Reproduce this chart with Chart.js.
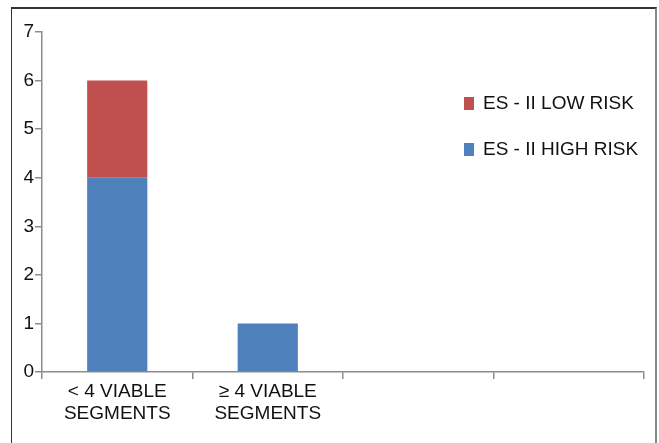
<!DOCTYPE html>
<html>
<head>
<meta charset="utf-8">
<script src="https://cdn.jsdelivr.net/npm/chart.js@4.4.1/dist/chart.umd.min.js"></script>
<style>
  html, body { margin: 0; padding: 0; background: #fff; overflow: hidden; }
  #wrap { position: relative; width: 659px; height: 443px; }
  #frame { position: absolute; left: 11px; top: 7px; width: 643px; height: 460px;
    border-top: 2px solid #333; border-left: 1px solid #333; border-right: 2px solid #888; }
  canvas { position: absolute; left: 0; top: 0; }
</style>
</head>
<body>
<div id="wrap">
  <div id="frame"></div>
  <canvas id="myChart" width="659" height="443"></canvas>
</div>
<script>
var categories = [['< 4 VIABLE', 'SEGMENTS'], ['≥ 4 VIABLE', 'SEGMENTS'], '', '']
var highRisk = [4, 1, null, null]
var lowRisk = [2, null, null, null]
var blueColor = '#4F81BD'
var redColor = '#C0504D'
var axisColor = '#8c8c8c'
var fontFamily = '"Liberation Sans", Arial, sans-serif'

// legend drawn inside the plot, top item = last dataset
var insideLegend = {
	id: 'insideLegend',
	afterDraw: function (chart) {
		var c = chart.ctx
		var sets = chart.data.datasets.slice().reverse()
		c.save()
		c.font = '19px ' + fontFamily
		c.textBaseline = 'middle'
		sets.forEach(function (ds, i) {
			var y = 103 + i * 46
			c.fillStyle = ds.backgroundColor
			c.fillRect(464, y - 6, 10, 13)
			c.fillStyle = '#111'
			c.fillText(ds.label, 483, y + 1)
		})
		c.restore()
	}
}

var ctx = document.getElementById('myChart')
var chart = new Chart(ctx, {
	type: 'bar',
	data: {
		labels: categories,
		datasets: [{
			label: 'ES - II HIGH RISK',
			data: highRisk,
			backgroundColor: blueColor,
			barPercentage: 0.4,
			categoryPercentage: 1,
		}, {
			label: 'ES - II LOW RISK',
			data: lowRisk,
			backgroundColor: redColor,
			barPercentage: 0.4,
			categoryPercentage: 1,
		}]
	},
	options: {
		responsive: false,
		animation: false,
		layout: { padding: { left: 0, top: 32, right: 15, bottom: 0 } },
		plugins: {
			legend: { display: false },
			tooltip: { enabled: false },
		},
		scales: {
			x: {
				stacked: true,
				offset: true,
				grid: { offset: true, drawOnChartArea: false, drawTicks: true, tickLength: 7, color: axisColor, lineWidth: 1.5 },
				border: { color: axisColor, width: 1.5 },
				ticks: { color: '#111', font: { family: fontFamily, size: 19, lineHeight: 1.2 }, padding: 1, maxRotation: 0, autoSkip: false },
				afterFit: function (s) { s.height = 71 },
			},
			y: {
				stacked: true,
				min: 0,
				max: 7,
				grid: { drawOnChartArea: false, drawTicks: true, tickLength: 7, color: axisColor, lineWidth: 1.5 },
				border: { color: axisColor, width: 1.5 },
				ticks: { stepSize: 1, color: '#111', font: { family: fontFamily, size: 19 }, padding: 1 },
				afterFit: function (s) { s.width = 42 },
			}
		}
	},
	plugins: [insideLegend]
})
</script>
</body>
</html>
